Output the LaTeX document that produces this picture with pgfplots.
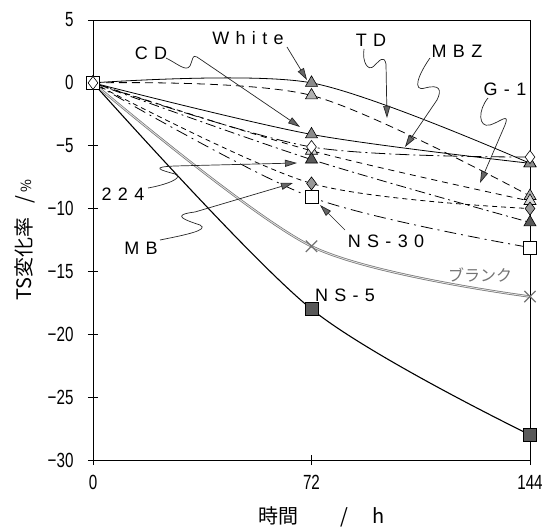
\documentclass[border=0pt]{standalone}
\usepackage{fontspec}
\setmainfont{Liberation Sans}
\newfontfamily\jp{Noto Sans CJK JP}
\newfontfamily\narrow[FakeStretch=0.74]{Liberation Sans}
\newfontfamily\lbl[LetterSpace=35]{Liberation Sans}
\usepackage{pgfplots}
\pgfplotsset{compat=1.18}
\usetikzlibrary{arrows.meta}
\tikzset{lead/.style={black!85, line width=0.7pt, -{Triangle[length=12pt,width=7pt,fill=black!60]}}}
\begin{document}
\begin{tikzpicture}
\useasboundingbox (0,0) rectangle (555pt,528pt);
\begin{axis}[
  at={(93pt,68pt)}, anchor=south west,
  scale only axis, width=437pt, height=440pt,
  xmin=0, xmax=144, ymin=-30, ymax=5,
  xtick={0,72,144}, xticklabels={0,72,144},
  ytick={-30,-25,-20,-15,-10,-5,0,5},
  yticklabels={−30,−25,−20,−15,−10,−5,0,5},
  tick align=center, major tick length=10pt,
  tick pos=left,
  tick style={black, line width=0.6pt},
  axis line style={line width=0.8pt},
  ticklabel style={font=\narrow\fontsize{20.5}{21}\selectfont},
  yticklabel style={xshift=-11pt},
  xticklabel style={yshift=-7pt},
  /pgf/number format/assume math mode=true,
  clip=false,
  xlabel={\jp 時間\hspace{42pt}/\hspace{24pt}h},
  ylabel={\jp TS変化率\hspace{14pt}/\hspace{4pt}\scalebox{0.7}{\%}},
  label style={font=\jp\fontsize{20}{22}\selectfont},
  xlabel style={at={(axis description cs:0.524,-0.13)}, anchor=center},
  ylabel style={at={(axis description cs:-0.155,0.5)}, anchor=center, rotate=0},
]
% NS-5
\addplot[black, line width=1.1pt, smooth, mark=square*, mark size=6.5pt,
  mark options={fill=black!65, solid, line width=0.6pt}]
  coordinates {(0,0) (72,-18) (144,-28)};
% blank line
\addplot[draw=black!55, double=black!12, double distance=0.9pt, line width=0.7pt, smooth]
  coordinates {(0,0) (72,-13) (144,-17)};
\addplot[only marks, mark=x, mark size=8pt, mark options={draw=black!55, line width=1.3pt}]
  coordinates {(0,0) (72,-13) (144,-17)};
% White
\addplot[black, line width=0.8pt, smooth, mark=triangle*, mark size=7pt,
  mark options={fill=black!45, solid, line width=0.6pt}]
  coordinates {(0,0) (72,0) (144,-6.4)};
% TD
\addplot[black, line width=0.8pt, dash pattern=on 8pt off 5pt, smooth, mark=triangle*, mark size=7pt,
  mark options={fill=black!30, solid, line width=0.6pt}]
  coordinates {(0,0) (72,-1.0) (144,-9.0)};
% CD
\addplot[black, line width=0.8pt, smooth, mark=triangle*, mark size=7pt,
  mark options={fill=black!45, solid, line width=0.6pt}]
  coordinates {(0,0) (72,-4.1) (144,-6.4)};
% G-1
\addplot[black, line width=0.8pt, dash pattern=on 6pt off 5pt, smooth, mark=triangle*, mark size=7pt,
  mark options={fill=black!15, solid, line width=0.6pt}]
  coordinates {(0,0) (72,-5.4) (144,-9.4)};
% 224
\addplot[black, line width=0.8pt, dash pattern=on 10pt off 4pt on 2pt off 4pt, smooth, mark=triangle*, mark size=7pt,
  mark options={fill=black!65, solid, line width=0.6pt}]
  coordinates {(0,0) (72,-6.1) (144,-11.1)};
% MB
\addplot[black, line width=0.8pt, dash pattern=on 5pt off 4pt, smooth, mark=diamond*, mark size=6.5pt,
  mark options={fill=black!40, solid, line width=0.6pt}]
  coordinates {(0,0) (72,-8.0) (144,-10.0)};
% NS-30
\addplot[black, line width=0.8pt, dash pattern=on 12pt off 5pt on 2pt off 5pt, smooth, mark=square*, mark size=6.5pt,
  mark options={fill=white, solid, line width=0.6pt}]
  coordinates {(0,0) (72,-9.1) (144,-13.1)};
% MBZ
\addplot[black, line width=0.8pt, dash pattern=on 14pt off 4pt on 2pt off 4pt, smooth, mark=diamond*, mark size=6.5pt,
  mark options={fill=white, solid, line width=0.6pt}]
  coordinates {(0,0) (72,-5.1) (144,-5.9)};
\end{axis}
\begin{scope}[shift={(0pt,528pt)}, x=1pt, y=-1pt]
  \tikzset{every node/.style={font=\lbl\fontsize{18}{18}\selectfont, inner sep=0pt}}
  \node at (248,38) {White};
  \node at (151,53) {CD};
  \node at (371,40) {TD};
  \node at (457,51) {MBZ};
  \node at (505,89) {G-1};
  \node at (386,241) {NS-30};
  \node at (345,295) {NS-5};
  \node at (123,194) {224};
  \node at (141,248) {MB};
  \node[font=\jp\fontsize{16}{16}\selectfont, text=black!55] at (480,275) {ブランク};
  % leaders
  \draw[lead] (287,47) -- (307,80);
  \draw[lead] (166,58) .. controls (178,64) and (186,72) .. (190,66) .. controls (193,60) and (192,54) .. (197,57) -- (300,127);
  \draw[lead] (364,49) .. controls (362,62) and (368,72) .. (374,66) .. controls (380,60) and (384,55) .. (386,64) -- (387,118);
  \draw[lead] (430,58) .. controls (418,75) and (412,92) .. (425,88) .. controls (440,84) and (442,90) .. (437,100) -- (405,147);
  \draw[lead] (488,98) .. controls (478,110) and (478,128) .. (490,125) .. controls (500,122) and (510,112) .. (505,125) -- (480,183);
  \draw[lead] (148,188) .. controls (165,185) and (185,178) .. (175,174) .. controls (160,170) and (150,167) .. (175,166) -- (297,163);
  \draw[lead] (160,240) .. controls (185,235) and (210,230) .. (200,225) .. controls (185,220) and (170,215) .. (195,212) -- (293,183);
  \draw[lead] (345,230) -- (320,205);
\end{scope}
\end{tikzpicture}
\end{document}
